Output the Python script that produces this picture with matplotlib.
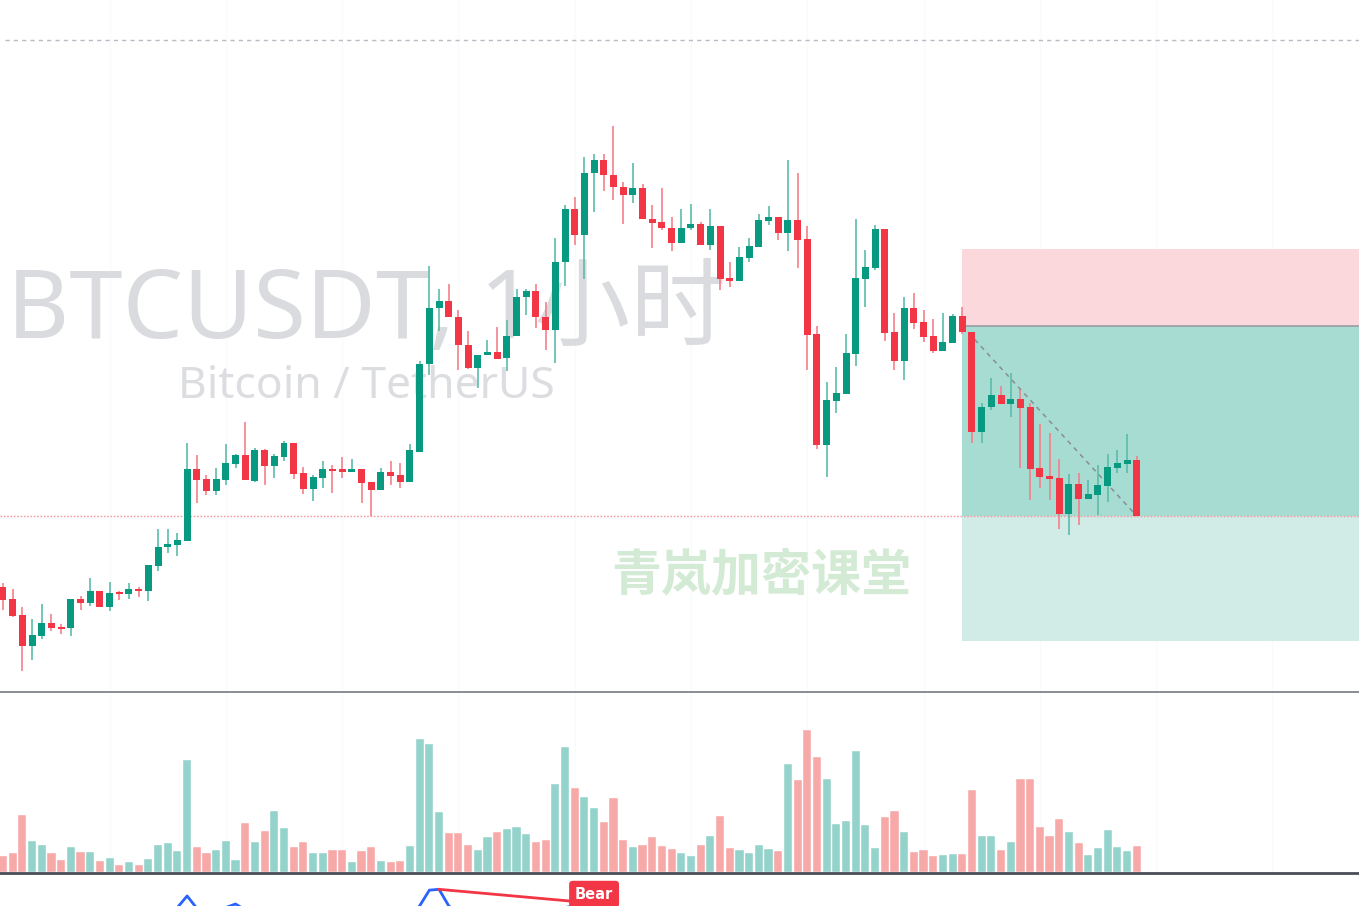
import matplotlib
matplotlib.use("Agg")
import matplotlib.pyplot as plt
from matplotlib.patches import Rectangle

# ---------------- data ----------------
opens = [27652,27604,27540,27416,27456,27508,27492,27488,27604,27588,
27636,27572,27632,27624,27644,27636,27736,27812,27820,27836,
28124,28084,28036,28080,28144,28180,28076,28200,28136,28172,
28228,28108,28044,28088,28124,28124,28112,28124,28072,28040,
28112,28100,28072,28192,28544,28768,28796,28732,28620,28528,
28580,28592,28568,28656,28812,28836,28732,28680,28952,29164,
29060,29308,29360,29300,29252,29220,29248,29124,29112,29088,
29028,29088,29104,29020,29096,28888,28876,28968,29012,29116,
29132,29068,29120,29044,28664,28220,28396,28424,28584,28884,
28928,29084,28672,28556,28768,28712,28656,28596,28628,28736,
28672,28272,28372,28420,28384,28404,28372,28128,28096,28088,
27944,28064,28004,28020,28056,28128,28144,28160]

highs = [27668,27644,27572,27524,27584,27544,27504,27604,27616,27688,
27636,27672,27636,27668,27652,27740,27884,27884,27868,28228,
28180,28100,28128,28224,28184,28312,28208,28204,28184,28236,
28228,28132,28100,28156,28140,28172,28164,28124,28072,28128,
28156,28148,28224,28556,28936,28844,28864,28760,28676,28580,
28640,28692,28720,28844,28844,28864,28792,29048,29180,29212,
29372,29384,29384,29496,29272,29348,29264,29180,29248,29132,
29164,29184,29112,29164,29096,28952,29012,29048,29144,29176,
29132,29360,29308,29096,28696,28472,28532,28664,29124,29000,
29100,29084,28748,28812,28828,28760,28724,28748,28744,28772,
28672,28388,28488,28456,28508,28440,28388,28304,28268,28164,
28104,28108,28080,28140,28184,28200,28264,28176]

lows = [27560,27532,27316,27360,27444,27476,27464,27456,27560,27576,
27572,27556,27600,27604,27612,27596,27716,27788,27776,27836,
27988,28020,28020,28060,28128,28080,28072,28060,28088,28156,
28084,28024,27996,28048,28028,28088,28112,27988,27936,28040,
28060,28048,28072,28192,28500,28676,28732,28520,28524,28448,
28580,28564,28516,28656,28740,28688,28600,28548,28856,29020,
28884,29152,29236,29200,29104,29188,29124,29008,29080,28996,
29028,29080,29020,29000,28840,28852,28876,28952,29012,29100,
29040,28996,28928,28520,28204,28092,28348,28424,28536,28772,
28920,28636,28520,28480,28684,28632,28588,28596,28628,28664,
28228,28228,28360,28384,28332,28128,28000,28048,28000,27884,
27860,27900,28004,27940,27992,28108,28108,27936]

closes = [27600,27536,27416,27460,27508,27488,27484,27604,27588,27636,
27572,27628,27624,27644,27636,27740,27812,27824,27840,28124,
28080,28036,28084,28148,28180,28080,28200,28136,28176,28228,
28104,28044,28092,28124,28116,28112,28124,28068,28040,28112,
28096,28072,28200,28544,28768,28796,28732,28620,28528,28580,
28592,28564,28656,28812,28836,28732,28680,28952,29164,29060,
29308,29360,29300,29252,29220,29248,29124,29108,29088,29028,
29088,29104,29020,29096,28884,28876,28972,29016,29120,29132,
29068,29120,29040,28660,28220,28400,28428,28588,28888,28932,
29084,28668,28556,28768,28708,28652,28596,28632,28736,28672,
28272,28372,28420,28384,28404,28368,28124,28092,28084,27944,
28064,28004,28024,28060,28132,28148,28160,27936]

volumes = [157,193,573,313,273,193,123,253,203,203,
113,143,73,103,73,133,273,293,213,1123,
253,193,223,313,123,493,303,413,613,443,
253,303,193,193,223,223,103,213,253,113,
103,113,263,1333,1283,603,393,393,273,223,
353,403,433,453,383,303,323,883,1253,843,
753,643,503,743,323,253,273,353,263,233,
193,163,273,363,563,243,223,193,273,233,
213,1083,923,1423,1153,933,483,513,1213,473,
243,553,613,403,203,223,163,173,183,183,
823,363,363,223,303,933,933,453,363,533,
403,293,173,243,423,253,213,263]

# short position tool
pos_start = 99
pos_entry = 28696
pos_stop = 29004
pos_target = 27436
last_price = 27936
top_line_price = 29840

# oscillator pane (partly visible)
osc_idx = [14,15,16,17,18,19,20,21,22,23,24,25,26,27,28,29,30,31,32,33,
           34,35,36,37,38,39,40,41,42,43,44,45,46,47,48,49,50,51,52,53,
           54,55,56,57,58,59,60,61,62,63,64,65,66]
osc_val = [48,52,56,57,58.5,65.5,58,54,56,58.5,60.6,57,58,55,56,58,52,48,50,52,
           51,51,52,48,46,50,49,48,53,59.5,69,69.5,59.5,55,51,53,53.5,53,56,58,
           58.5,55,53,57,58.5,59.5,60.5,61.2,60,57,55,54,53]
bear_from = 45
bear_to = 61
bear_from_val = 69.5
bear_to_val = 61.1

title_text = "BTCUSDT, 1小时"
subtitle_text = "Bitcoin / TetherUS"
brand_text = "青岚加密课堂"

UP = "#089981"
DOWN = "#f23645"
UP_WICK = "#5bbcab"
DOWN_WICK = "#f5808a"
VOL_UP = "#94d3cb"
VOL_DOWN = "#f7a9a8"

W, H = 1359, 906
fig = plt.figure(figsize=(W / 100, H / 100), dpi=100)
fig.patch.set_facecolor("white")

XL = (-0.31, 139.94)

def fy(py):
    return 1 - py / H

ax = fig.add_axes([0, fy(692), 1, 692 / H])
axv = fig.add_axes([0, fy(872), 1, 180 / H])
axo = fig.add_axes([0, 0, 1, 34 / H])

for a in (ax, axv, axo):
    a.set_xlim(*XL)
    a.set_xticks([])
    a.set_yticks([])
    for s in a.spines.values():
        s.set_visible(False)
    a.set_facecolor("none")

ax.set_ylim(27232, 30000)
axv.set_ylim(0, 1800)
axo.set_ylim(59.4, 80)

n = len(opens)
xs = list(range(n))

# very faint vertical grid
for g in range(11, 140, 12):
    ax.axvline(g, color="#f9fafb", lw=1, zorder=0)
    axv.axvline(g, color="#f9fafb", lw=1, zorder=0)

# watermarks (behind candles)
ax.text(7 / W, fy(338), title_text, transform=fig.transFigure,
        fontsize=69, color="#dadbde", family=["Noto Sans", "Noto Sans CJK SC"],
        ha="left", va="baseline", zorder=0.5)
ax.text(178 / W, fy(398), subtitle_text, transform=fig.transFigure,
        fontsize=32, color="#dcdde0", family=["Noto Sans", "Noto Sans CJK SC"],
        ha="left", va="baseline", zorder=0.5)
ax.text(611 / W, fy(577), brand_text, transform=fig.transFigure,
        fontsize=36, color="#d3ebd5", family=["Noto Sans CJK SC"],
        fontweight="bold", ha="left", va="center", zorder=0.5)

# position tool
right = XL[1] + 5
ax.add_patch(Rectangle((pos_start - 0.03, pos_entry), right - pos_start, pos_stop - pos_entry,
                       facecolor="#fbd8db", edgecolor="none", zorder=0.6))
ax.add_patch(Rectangle((pos_start - 0.03, last_price), right - pos_start, pos_entry - last_price,
                       facecolor="#a7dcd3", edgecolor="none", zorder=0.6))
ax.add_patch(Rectangle((pos_start - 0.03, pos_target), right - pos_start, last_price - pos_target,
                       facecolor="#d1ece6", edgecolor="none", zorder=0.6))
ax.plot([pos_start - 0.03, right], [pos_entry, pos_entry], color="#9a9ca4", lw=1.2, zorder=0.7)
ax.plot([pos_start, n - 1], [pos_entry, last_price], color="#8a8c94", lw=1.1,
        linestyle=(0, (3, 3)), zorder=0.7)

# horizontal lines
ax.axhline(top_line_price, xmin=5 / W, color="#b8bbc3", lw=1, linestyle=(0, (3, 3)), zorder=0.7)
ax.axhline(last_price, color="#f59aa2", lw=1, linestyle=(0, (1.2, 1.2)), zorder=0.9)

# candles
for i in xs:
    o, h, l, c = opens[i], highs[i], lows[i], closes[i]
    up = c >= o
    ax.vlines(i, l, h, color=UP_WICK if up else DOWN_WICK, lw=1.2, zorder=1)
    bot = min(o, c)
    ht = max(abs(c - o), 5)
    ax.bar(i, ht, bottom=bot, width=0.72, color=UP if up else DOWN,
           edgecolor="none", zorder=2)

# volume
vcols = [VOL_UP if closes[i] >= opens[i] else VOL_DOWN for i in xs]
axv.bar(xs, volumes, width=0.84, color=vcols, edgecolor="white", linewidth=0.3, zorder=1)

# pane separators
fig.add_artist(plt.Line2D([0, 1], [fy(692), fy(692)], color="#6b6e78", lw=1.1))
fig.add_artist(plt.Line2D([0, 1], [fy(872.5), fy(872.5)], color="#4a4d57", lw=2))

# oscillator pane
axo.plot(osc_idx, osc_val, color="#2962ff", lw=2, zorder=1)
axo.plot([bear_from, bear_to], [bear_from_val, bear_to_val], color=DOWN, lw=2, zorder=2)
axo.text(bear_to, 66.6, "Bear", color="white", fontsize=10.5, fontweight="bold",
         family="DejaVu Sans", ha="center", va="center", zorder=3,
         bbox=dict(boxstyle="round,pad=0.4,rounding_size=0.25", fc=DOWN, ec="none"))

fig.savefig("out.png", dpi=100, facecolor="white")
